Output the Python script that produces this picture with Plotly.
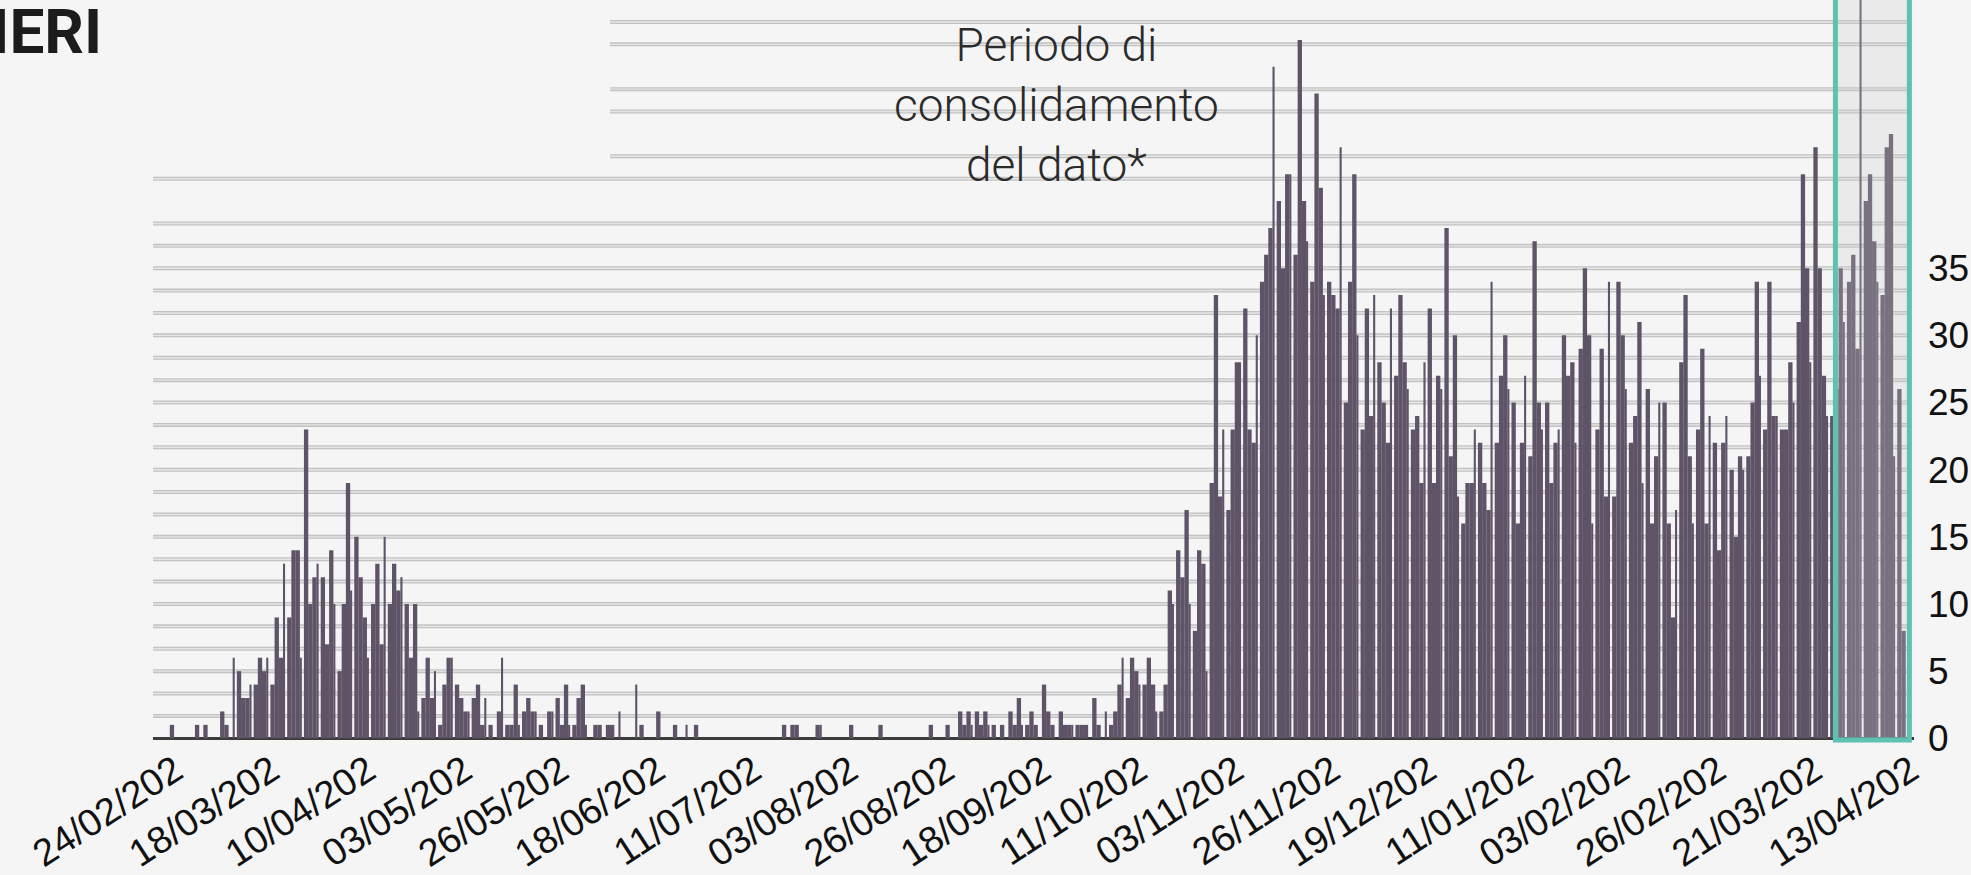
import plotly.graph_objects as go

# ---------------- data ----------------
START_DATE = "2020-02-24"          # first bar (day index 0)

DAILY_DEATHS = (
    [0, 0, 0, 0, 1, 0, 0, 0, 0, 0]
    + [1, 0, 1, 0, 0, 0, 2, 1, 0, 6]
    + [5, 3, 3, 4, 4, 6, 5, 6, 4, 9]
    + [6, 13, 9, 14, 14, 6, 23, 10, 12, 13]
    + [12, 7, 14, 10, 5, 10, 19, 11, 15, 12]
    + [9, 6, 10, 13, 7, 15, 10, 13, 11, 12]
    + [10, 6, 10, 2, 3, 6, 3, 5, 1, 4]
    + [6, 6, 4, 3, 2, 2, 3, 4, 1, 3]
    + [1, 0, 2, 6, 1, 1, 4, 1, 2, 3]
    + [2, 2, 1, 0, 2, 2, 3, 1, 4, 1]
    + [1, 3, 4, 1, 0, 1, 1, 0, 1, 1]
    + [0, 2, 0, 0, 0, 4, 1, 0, 0, 0]
    + [2, 0, 0, 0, 1, 0, 0, 1, 0, 1]
    + [0, 0, 0, 0, 0, 0, 0, 0, 0, 0]
    + [0, 0, 0, 0, 0, 0, 0, 0, 0, 0]
    + [1, 0, 1, 1, 0, 0, 0, 0, 1, 1]
    + [0, 0, 0, 0, 0, 0, 1, 0, 0, 0]
    + [0, 0, 0, 1, 0, 0, 0, 0, 0, 0]
    + [0, 0, 0, 0, 0, 1, 0, 0, 0, 1]
    + [0, 0, 2, 1, 2, 1, 2, 1, 2, 1]
    + [1, 0, 1, 0, 2, 1, 3, 1, 1, 2]
    + [1, 0, 4, 2, 1, 0, 2, 1, 1, 1]
    + [1, 1, 1, 0, 3, 1, 0, 2, 1, 2]
    + [4, 6, 3, 6, 5, 4, 4, 6, 4, 2]
    + [2]
    + [4, 11, 10, 14, 12, 17, 10, 8, 14, 13, 5, 19]
    + [33, 18, 23, 17, 23, 28, 28, 32, 23, 22, 30, 34]
    + [36, 38, 50, 40, 35, 42, 42, 36, 52, 40, 37]
    + [34, 48, 41, 33, 34, 33, 32, 44, 25, 34, 42]
    + [30, 23, 32, 24, 33, 28, 25, 22, 32, 27, 33, 28]
    + [26, 23, 24, 19, 28, 32, 19, 27, 26, 38, 21, 30]
    + [18, 16, 19, 19, 23, 22, 19, 17, 34, 22, 27]
    + [30, 26, 25, 16, 22, 27, 21, 37]
    + [25, 23, 25, 19]
    + [22, 23, 30, 27, 28, 22, 29, 35, 30, 16, 23]
    + [29, 18, 34, 18, 34, 30, 26, 22, 24, 31, 19, 26]
    + [16, 21, 25, 25, 16, 9, 17, 28, 33, 21, 16]
    + [23, 29, 16, 24, 22, 14, 22, 24, 20, 15, 21, 20]
    + [21, 25, 34, 27, 23, 34, 24, 24, 23, 23, 28]
    + [25, 31, 42, 35, 28, 44, 35, 27]
    + [24, 24, 26, 35, 31, 34, 36, 29, 57, 40, 42, 37, 34, 33, 44, 45, 21, 26, 8]
)

TICK_EVERY = 23
TICK_LABELS = ["24/02/202", "18/03/202", "10/04/202", "03/05/202", "26/05/202",
               "18/06/202", "11/07/202", "03/08/202", "26/08/202", "18/09/202",
               "11/10/202", "03/11/202", "26/11/202", "19/12/202", "11/01/202",
               "03/02/202", "26/02/202", "21/03/202", "13/04/202"]
Y_TICKS = [0, 5, 10, 15, 20, 25, 30, 35]

GRID_STEP = 5 / 3
GRID_FULL = list(range(1, 24)) + [25]
GRID_PARTIAL = [26, 28, 29, 31, 32]

CONSOLIDATION_DAYS = 17
ANNOTATION_TEXT = "Periodo di<br>consolidamento<br>del dato*"
TITLE_TEXT = "GIORNALIERI"

# ---------------- figure ----------------
n = len(DAILY_DEATHS)
days = list(range(n))

BAR_COLOR = "#5e5367"
BG = "#f5f5f5"
YMIN, YMAX = -0.35, 54.97
XMIN, XMAX = -0.5, n + 1.5

widths = [0.5 if i % 4 == 3 else 1.03 for i in days]

fig = go.Figure()
fig.add_trace(go.Bar(
    x=days, y=DAILY_DEATHS, width=widths, offset=-0.5,
    marker=dict(color=BAR_COLOR, line=dict(width=0)),
    showlegend=False, hoverinfo="y",
))

shapes = []
for k in GRID_FULL + GRID_PARTIAL:
    x0 = XMIN if k in GRID_FULL else 108.5
    yv = k * GRID_STEP
    shapes.append(dict(type="line", xref="x", yref="y", x0=x0, x1=n + 0.05,
                       y0=yv, y1=yv, layer="below",
                       line=dict(color="#c2c2c2", width=4)))
    shapes.append(dict(type="line", xref="x", yref="y", x0=x0, x1=n + 0.05,
                       y0=yv, y1=yv, layer="below",
                       line=dict(color="#e6e6e6", width=1.4)))

shapes.append(dict(type="rect", xref="x", yref="y",
                   x0=n - CONSOLIDATION_DAYS - 0.24, x1=n + 0.4,
                   y0=-0.13, y1=YMAX + 3, layer="above",
                   line=dict(color="#5ec2b2", width=5),
                   fillcolor="rgba(205,205,205,0.25)"))

fig.update_layout(
    width=1971, height=875,
    margin=dict(l=153, r=57, t=0, b=132),
    paper_bgcolor=BG, plot_bgcolor=BG,
    shapes=shapes,
    showlegend=False,
    xaxis=dict(range=[XMIN, XMAX], tickvals=list(range(0, n, TICK_EVERY)),
               ticktext=TICK_LABELS, tickangle=-33,
               tickfont=dict(family="Liberation Sans, Arial", size=38, color="#111111"),
               showgrid=False, zeroline=False, showline=False, ticks="",
               automargin=False, ticklabelstandoff=-3, ticklabelshift=20),
    yaxis=dict(range=[YMIN, YMAX], side="right", tickvals=Y_TICKS,
               tickfont=dict(family="Liberation Sans, Arial", size=37, color="#111111"),
               showgrid=False, zeroline=True, zerolinecolor="#3b3b3b", zerolinewidth=3,
               ticks="", automargin=False, ticklabelstandoff=13),
    annotations=[
        dict(text=ANNOTATION_TEXT, xref="x", yref="y", x=214.9, y=47.13,
             showarrow=False, align="center", xanchor="center", yanchor="middle",
             font=dict(family="Roboto", size=46, color="#2b2b2b", weight=300)),
        dict(text=TITLE_TEXT, xref="paper", yref="paper", x=-0.0281, y=0.9575,
             showarrow=False, xanchor="right", yanchor="middle",
             font=dict(family="Roboto", size=62, color="#1c1c1c", weight="bold")),
    ],
)

# the page has a default 8px body margin; remove it so the figure fills the window
fig.write_html(
    "out.html",
    config=dict(displayModeBar=False),
    post_script="document.body.style.margin='0';document.body.style.background='#f5f5f5';",
)
